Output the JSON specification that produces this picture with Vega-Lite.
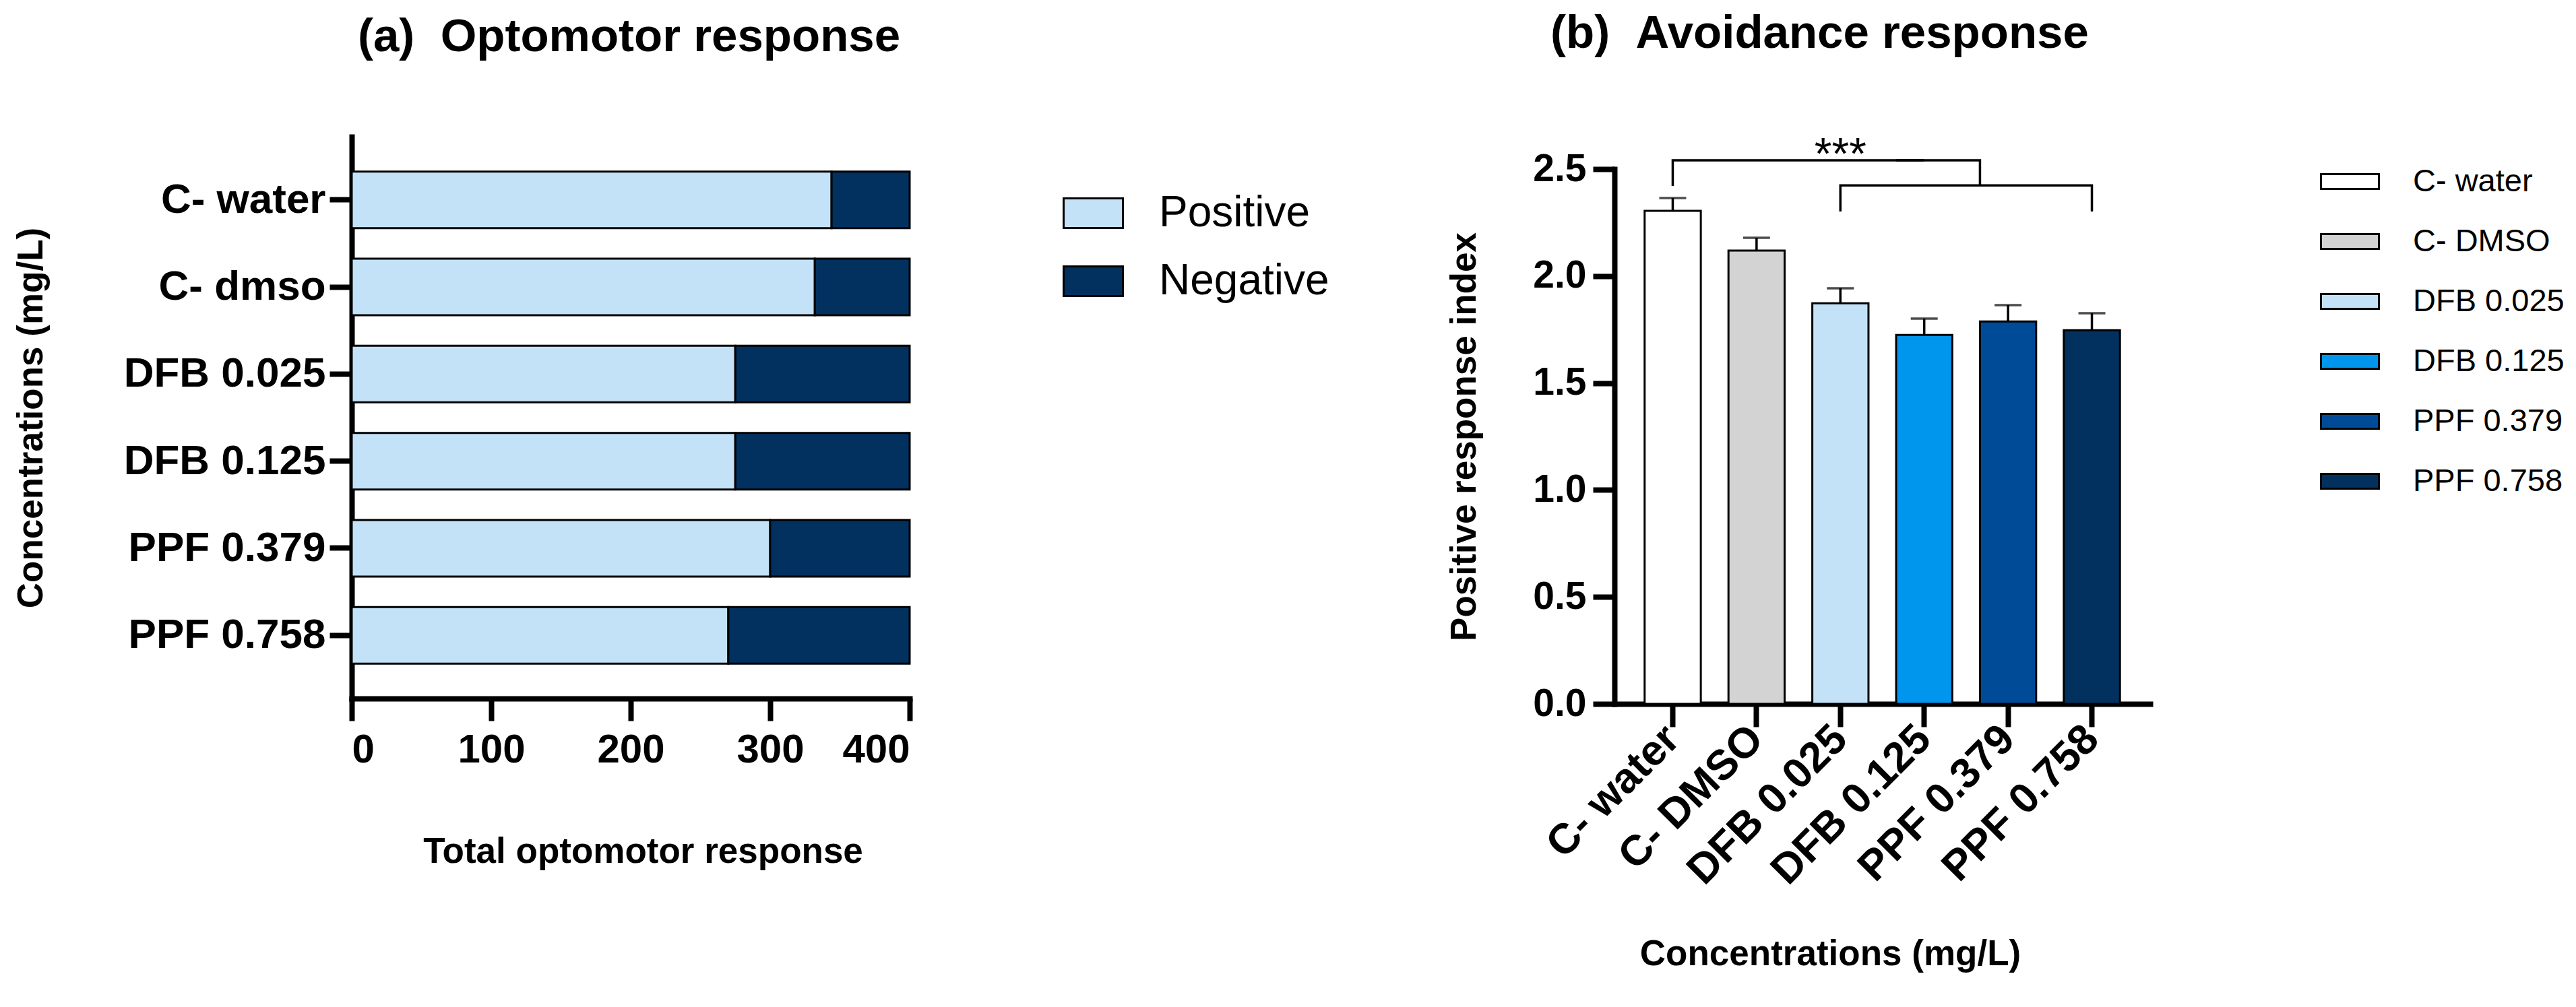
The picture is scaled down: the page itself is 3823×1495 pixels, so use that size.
{
  "$schema": "https://vega.github.io/schema/vega-lite/v6.json",
  "background": "white",
  "padding": {"left": 20, "top": 16, "right": 0, "bottom": 0},
  "bounds": "full",
  "spacing": 174,
  "resolve": {"scale": {"color": "independent"}, "legend": {"color": "independent"}},
  "config": {
    "font": "Liberation Sans",
    "view": {"stroke": null},
    "axis": {
      "grid": false,
      "domainColor": "black",
      "tickColor": "black",
      "labelColor": "black",
      "titleColor": "black",
      "domainWidth": 8,
      "tickWidth": 8,
      "domainCap": "square",
      "labelFontWeight": "bold",
      "titleFontWeight": "bold",
      "labelLimit": 0,
      "titleLimit": 0,
      "maxExtent": 2000
    },
    "legend": {"labelColor": "black", "labelLimit": 0},
    "title": {"color": "black", "fontWeight": "bold", "fontSize": 69}
  },
  "hconcat": [
    {
      "width": 828,
      "height": 834,
      "title": {"text": "(a) \u00a0Optomotor response", "offset": 113, "anchor": "start", "frame": "group", "dx": 9},
      "data": {
        "values": [
          {"group": "C- water", "response": "Positive", "count": 344},
          {"group": "C- water", "response": "Negative", "count": 56},
          {"group": "C- dmso", "response": "Positive", "count": 332},
          {"group": "C- dmso", "response": "Negative", "count": 68},
          {"group": "DFB 0.025", "response": "Positive", "count": 275},
          {"group": "DFB 0.025", "response": "Negative", "count": 125},
          {"group": "DFB 0.125", "response": "Positive", "count": 275},
          {"group": "DFB 0.125", "response": "Negative", "count": 125},
          {"group": "PPF 0.379", "response": "Positive", "count": 300},
          {"group": "PPF 0.379", "response": "Negative", "count": 100},
          {"group": "PPF 0.758", "response": "Positive", "count": 270},
          {"group": "PPF 0.758", "response": "Negative", "count": 130}
        ]
      },
      "mark": {"type": "bar", "stroke": "black", "strokeWidth": 3},
      "encoding": {
        "y": {
          "field": "group",
          "type": "nominal",
          "sort": ["C- water", "C- dmso", "DFB 0.025", "DFB 0.125", "PPF 0.379", "PPF 0.758"],
          "scale": {"paddingInner": 0.35, "paddingOuter": 0.4},
          "axis": {
            "title": "Concentrations (mg/L)",
            "titleFontSize": 53,
            "titlePadding": 110,
            "labelFontSize": 62,
            "labelPadding": 6,
            "tickSize": 33
          }
        },
        "x": {
          "field": "count",
          "type": "quantitative",
          "stack": "zero",
          "scale": {"domain": [0, 400], "nice": false},
          "axis": {
            "title": "Total optomotor response",
            "values": [0, 100, 200, 300, 400],
            "titleFontSize": 53,
            "titlePadding": 95,
            "titleX": 432,
            "titleAlign": "center",
            "labelFontSize": 60,
            "labelPadding": 14,
            "tickSize": 33
          }
        },
        "color": {
          "field": "response",
          "type": "nominal",
          "scale": {"domain": ["Positive", "Negative"], "range": ["#C3E2F8", "#02315F"]},
          "legend": {
            "title": null,
            "orient": "none",
            "legendX": 1055,
            "legendY": 68,
            "padding": 0,
            "symbolType": "M-1,-0.5H1V0.5H-1Z",
            "symbolSize": 7744,
            "symbolStrokeColor": "black",
            "symbolStrokeWidth": 3,
            "labelFontSize": 64,
            "labelOffset": 52,
            "rowPadding": 23
          }
        },
        "order": {"field": "response", "sort": "descending"}
      }
    },
    {
      "width": 795,
      "height": 842,
      "title": {"text": "(b) \u00a0Avoidance response", "offset": 113, "anchor": "start", "frame": "group", "dx": -95},
      "layer": [
        {
          "data": {
            "values": [
              {"group": "C- water", "mean": 2.305, "upper": 2.365},
              {"group": "C- DMSO", "mean": 2.119, "upper": 2.179},
              {"group": "DFB 0.025", "mean": 1.873, "upper": 1.943},
              {"group": "DFB 0.125", "mean": 1.725, "upper": 1.801},
              {"group": "PPF 0.379", "mean": 1.788, "upper": 1.864},
              {"group": "PPF 0.758", "mean": 1.747, "upper": 1.826}
            ]
          },
          "layer": [
            {
              "mark": {"type": "rule", "color": "black", "strokeWidth": 3.5},
              "encoding": {
                "x": {"field": "group", "type": "nominal", "title": "Concentrations (mg/L)", "sort": ["C- water", "C- DMSO", "DFB 0.025", "DFB 0.125", "PPF 0.379", "PPF 0.758"]},
                "y": {"field": "mean", "type": "quantitative", "title": "Positive response index"},
                "y2": {"field": "upper"}
              }
            },
            {
              "mark": {"type": "tick", "color": "black", "orient": "horizontal", "size": 40, "thickness": 3.5},
              "encoding": {
                "x": {"field": "group", "type": "nominal", "title": "Concentrations (mg/L)", "sort": ["C- water", "C- DMSO", "DFB 0.025", "DFB 0.125", "PPF 0.379", "PPF 0.758"]},
                "y": {"field": "upper", "type": "quantitative", "title": "Positive response index"}
              }
            },
            {
              "mark": {"type": "bar", "stroke": "black", "strokeWidth": 3},
              "encoding": {
                "x": {
                  "field": "group",
                  "type": "nominal",
                  "title": "Concentrations (mg/L)",
                  "sort": ["C- water", "C- DMSO", "DFB 0.025", "DFB 0.125", "PPF 0.379", "PPF 0.758"],
                  "scale": {"paddingInner": 0.33, "paddingOuter": 0.36},
                  "axis": {
                    "labelAngle": -45,
                    "labelFontSize": 63,
                    "labelPadding": 8,
                    "tickSize": 34,
                    "titleFontSize": 53,
                    "titlePadding": 65,
                    "titleX": 320,
                    "titleAlign": "center"
                  }
                },
                "y": {
                  "field": "mean",
                  "type": "quantitative",
                  "title": "Positive response index",
                  "scale": {"domain": [0, 2.5], "nice": false, "range": [842, 48]},
                  "axis": {
                    "values": [0, 0.5, 1, 1.5, 2, 2.5],
                    "format": ".1f",
                    "labelFontSize": 57,
                    "labelPadding": 10,
                    "tickSize": 32,
                    "titleFontSize": 53,
                    "titlePadding": 74
                  }
                },
                "color": {
                  "field": "group",
                  "type": "nominal",
                  "sort": ["C- water", "C- DMSO", "DFB 0.025", "DFB 0.125", "PPF 0.379", "PPF 0.758"],
                  "scale": {
                    "domain": ["C- water", "C- DMSO", "DFB 0.025", "DFB 0.125", "PPF 0.379", "PPF 0.758"],
                    "range": ["#FFFFFF", "#D3D3D3", "#C3E2F8", "#0096EE", "#004B98", "#02315F"]
                  },
                  "legend": {
                    "title": null,
                    "orient": "none",
                    "legendX": 1047,
                    "legendY": 22,
                    "padding": 0,
                    "symbolType": "M-1,-0.256H1V0.256H-1Z",
                    "symbolSize": 7396,
                    "symbolStrokeColor": "black",
                    "symbolStrokeWidth": 3,
                    "labelFontSize": 47,
                    "labelOffset": 49,
                    "rowPadding": 21
                  }
                }
              }
            }
          ]
        },
        {
          "data": {
            "values": [
              {"seg": "b1a", "k": 1, "group": "C- water", "level": 2.421},
              {"seg": "b1a", "k": 2, "group": "C- water", "level": 2.541},
              {"seg": "b1a", "k": 3, "group": "DFB 0.125", "level": 2.541},
              {"seg": "b2", "k": 1, "group": "DFB 0.025", "level": 2.302},
              {"seg": "b2", "k": 2, "group": "DFB 0.025", "level": 2.424},
              {"seg": "b2", "k": 3, "group": "PPF 0.758", "level": 2.424},
              {"seg": "b2", "k": 4, "group": "PPF 0.758", "level": 2.302}
            ]
          },
          "mark": {"type": "line", "color": "black", "strokeWidth": 3.5},
          "encoding": {
            "x": {"field": "group", "type": "nominal", "title": "Concentrations (mg/L)", "sort": ["C- water", "C- DMSO", "DFB 0.025", "DFB 0.125", "PPF 0.379", "PPF 0.758"]},
            "y": {"field": "level", "type": "quantitative", "title": "Positive response index"},
            "detail": {"field": "seg"},
            "order": {"field": "k"}
          }
        },
        {
          "data": {
            "values": [
              {"seg": "b1b", "k": 1, "group": "DFB 0.125", "level": 2.541},
              {"seg": "b1b", "k": 2, "group": "PPF 0.379", "level": 2.541},
              {"seg": "b1b", "k": 3, "group": "PPF 0.379", "level": 2.424}
            ]
          },
          "mark": {"type": "line", "color": "black", "strokeWidth": 3.5},
          "encoding": {
            "x": {"field": "group", "type": "nominal", "bandPosition": 0, "title": "Concentrations (mg/L)", "sort": ["C- water", "C- DMSO", "DFB 0.025", "DFB 0.125", "PPF 0.379", "PPF 0.758"]},
            "y": {"field": "level", "type": "quantitative", "title": "Positive response index"},
            "detail": {"field": "seg"},
            "order": {"field": "k"}
          }
        },
        {
          "data": {"values": [{"group": "DFB 0.025", "level": 2.5, "label": "***"}]},
          "mark": {"type": "text", "color": "black", "fontSize": 66, "baseline": "alphabetic", "align": "center"},
          "encoding": {
            "x": {"field": "group", "type": "nominal", "title": "Concentrations (mg/L)", "sort": ["C- water", "C- DMSO", "DFB 0.025", "DFB 0.125", "PPF 0.379", "PPF 0.758"]},
            "y": {"field": "level", "type": "quantitative", "title": "Positive response index"},
            "text": {"field": "label"}
          }
        }
      ]
    }
  ]
}
